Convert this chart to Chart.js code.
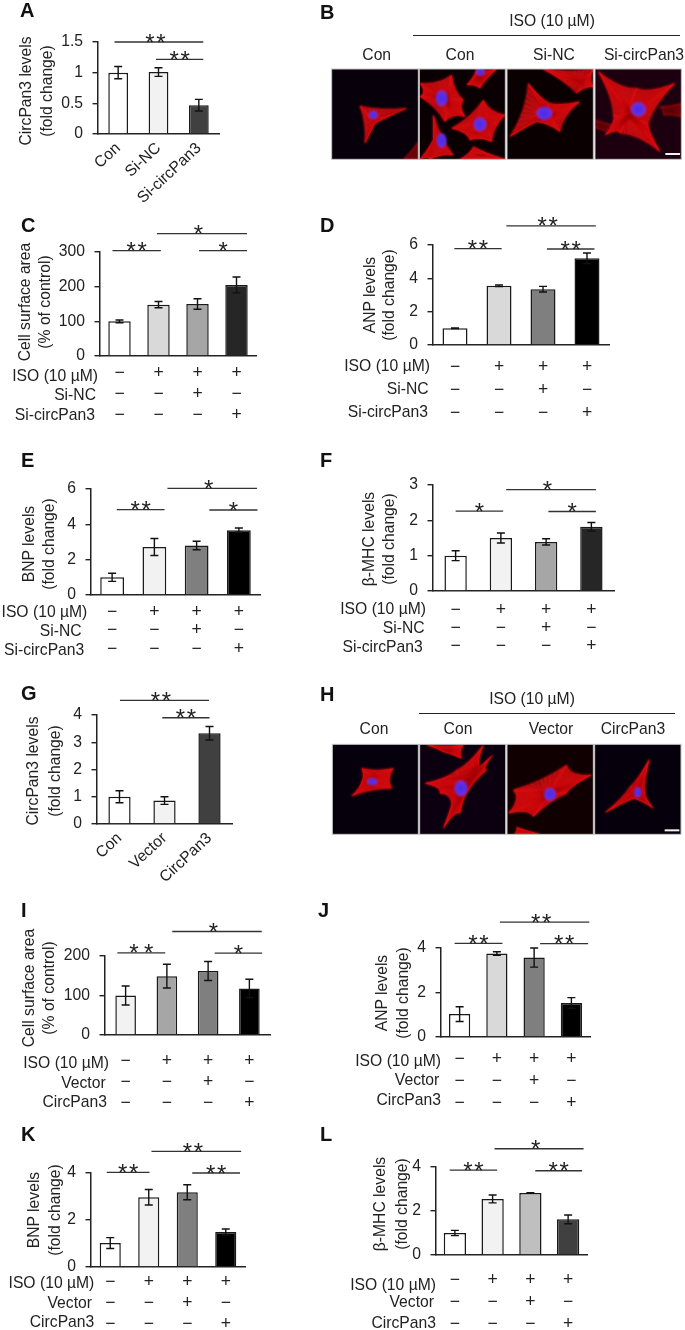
<!DOCTYPE html>
<html lang="en">
<head>
<meta charset="UTF-8" />
<title>CircPan3 panels</title>
<script src="https://cdn.jsdelivr.net/npm/chart.js"></script>
<style>
  html, body { margin: 0; background: #fff; }
  #page { position: relative; width: 685px; height: 1330px; overflow: hidden; font-family: "Liberation Sans", Arial, sans-serif; color: #222; }
  #page canvas { position: absolute; }
  .t { position: absolute; white-space: nowrap; font-size: 15.7px; line-height: 1; }
  .letter { font-weight: bold; font-size: 20px; color: #111; }
  .rule { position: absolute; height: 1.3px; background: #222; }
</style>
</head>
<body>
<div id="page"><canvas id="cells" width="685" height="1330" style="left:0;top:0"></canvas></div>
<script>
// categories
const aLabels = ['Con', 'Si-NC', 'Si-circPan3'];
const gLabels = ['Con', 'Vector', 'CircPan3'];
const isoSigns = ['−', '+', '+', '+'];
const middleSigns = ['−', '−', '+', '−'];
const lastSigns = ['−', '−', '−', '+'];

// values and errors
const aValues = [1, 1.01, 0.47],            aErrors = [0.1, 0.07, 0.095];
const cValues = [100, 148, 150, 205],       cErrors = [4, 9, 15, 23];
const dValues = [1, 3.55, 3.35, 5.2],       dErrors = [0.02, 0.05, 0.17, 0.32];
const eValues = [1, 2.72, 2.8, 3.67],       eErrors = [0.23, 0.48, 0.24, 0.12];
const fValues = [1, 1.5, 1.39, 1.82],       fErrors = [0.14, 0.14, 0.09, 0.12];
const gValues = [1, 0.86, 3.33],            gErrors = [0.22, 0.14, 0.25];
const iValues = [100, 149, 162, 118],       iErrors = [24, 30, 24, 23];
const jValues = [1.03, 3.75, 3.57, 1.53],   jErrors = [0.33, 0.08, 0.43, 0.24];
const kValues = [1.02, 2.97, 3.18, 1.49],   kErrors = [0.23, 0.33, 0.32, 0.13];
const lValues = [1, 2.55, 2.82, 1.62],      lErrors = [0.12, 0.18, 0.01, 0.2];

// y tick labels
const aTicks = [0, 0.5, 1, 1.5];
const cTicks = [0, 100, 200, 300];
const sixTicks = [0, 2, 4, 6];
const fTicks = [0, 1, 2, 3];
const gTicks = [0, 1, 2, 3, 4];
const iTicks = [0, 100, 200];
const fourTicks = [0, 2, 4];

// significance lines: from category, to category, y value, number of stars
const aSig = [[-0.09, 2.11, 1.5, 2], [0.94, 2.11, 1.216, 2]];
const cSig = [[-0.18, 1.06, 304, 2], [0.96, 3.27, 353, 1], [2.04, 3.27, 304, 1]];
const dSig = [[-0.015, 1.06, 5.78, 2], [1.167, 3.2, 7.15, 2], [2.09, 3.17, 5.76, 2]];
const eSig = [[0.11, 1.24, 4.83, 2], [1.31, 3.43, 6.04, 1], [2.3, 3.44, 4.81, 1]];
const fSig = [[0, 1.05, 2.26, 1], [1.116, 3.1, 2.87, 1], [2.05, 3.1, 2.25, 1]];
const gSig = [[0.01, 1.99, 4.54, 2], [0.95, 2, 3.9, 2]];
const iSig = [[-0.2, 0.96, 208, 2], [1.13, 3.3, 262, 1], [2.16, 3.31, 207.5, 1]];
const jSig = [[-0.135, 1.15, 4.21, 2], [1.08, 3.48, 5.16, 2], [2.16, 3.45, 4.2, 2]];
const kSig = [[-0.09, 1.02, 4.03, 2], [1.07, 3.4, 4.92, 2], [2.13, 3.37, 4, 2]];
const lSig = [[-0.137, 1.12, 3.86, 2], [1.05, 3.41, 4.83, 1], [2.13, 3.37, 3.83, 2]];

const page = document.getElementById('page');

function addText(txt, x, y, align, cls) {
  const el = document.createElement('div');
  el.className = 't' + (cls ? ' ' + cls : '');
  el.textContent = txt;
  el.style.left = x + 'px';
  el.style.top = y + 'px';
  const shift = align === 'right' ? '-100%' : align === 'left' ? '0' : '-50%';
  el.style.transform = `translate(${shift},-50%)`;
  page.appendChild(el);
}

function addYTitle(txt, x, y) {
  const el = document.createElement('div');
  el.className = 't';
  el.textContent = txt;
  el.style.left = x + 'px';
  el.style.top = y + 'px';
  el.style.transform = 'translate(-50%,-50%) rotate(-90deg)';
  page.appendChild(el);
}

function addRule(x0, x1, y) {
  const el = document.createElement('div');
  el.className = 'rule';
  el.style.left = x0 + 'px';
  el.style.width = (x1 - x0) + 'px';
  el.style.top = y + 'px';
  page.appendChild(el);
}

// error bars and significance lines
const extras = {
  id: 'extras',
  afterDatasetsDraw(chart) {
    const { ctx, scales: { x, y } } = chart;
    const ds = chart.data.datasets[0];
    const bars = chart.getDatasetMeta(0).data;
    ctx.save();
    ctx.strokeStyle = '#111';
    ctx.lineWidth = 1.4;
    ds.values.forEach((v, i) => {
      const px = bars[i].x;
      const hi = y.getPixelForValue(v + ds.errors[i]);
      const lo = y.getPixelForValue(v - ds.errors[i]);
      ctx.beginPath();
      ctx.moveTo(px, hi); ctx.lineTo(px, lo);
      ctx.moveTo(px - 4, hi); ctx.lineTo(px + 4, hi);
      ctx.moveTo(px - 4, lo); ctx.lineTo(px + 4, lo);
      ctx.stroke();
    });
    ctx.strokeStyle = '#333';
    ctx.lineWidth = 1.3;
    ctx.fillStyle = '#222';
    ctx.font = '24px "Liberation Sans"';
    ctx.textAlign = 'center';
    ctx.textBaseline = 'alphabetic';
    ds.sig.forEach(([from, to, val, stars]) => {
      const x0 = x.getPixelForValue(from), x1 = x.getPixelForValue(to), py = y.getPixelForValue(val);
      ctx.beginPath();
      ctx.moveTo(x0, py); ctx.lineTo(x1, py);
      ctx.stroke();
      // the stars over the long lines sit a little left of the middle
      const mid = (x0 + x1) / 2 - (to - from >= 1.9 ? 3.5 : 0);
      if (stars === 2) {
        ctx.fillText('*', mid - ds.starGap / 2, py + 8.5);
        ctx.fillText('*', mid + ds.starGap / 2, py + 8.5);
      } else {
        ctx.fillText('*', mid, py + 8.5);
      }
    });
    ctx.restore();
  }
};

const GUTTER = 45, HEAD = 45, SIDE = 25, SIGN_SIZE = 17.5;

function barPanel(p) {
  const foot = p.foot || 75;
  const cv = document.createElement('canvas');
  cv.width = GUTTER + (p.right - p.left) + SIDE;
  cv.height = HEAD + (p.bottom - p.top) + foot;
  cv.style.left = (p.left - GUTTER) + 'px';
  cv.style.top = (p.top - HEAD) + 'px';
  page.appendChild(cv);

  const rotated = p.rotate > 0;
  new Chart(cv, {
    type: 'bar',
    data: {
      labels: p.labels,
      datasets: [{
        data: p.values,
        values: p.values,
        errors: p.errors,
        sig: p.sig,
        starGap: p.starGap || 11,
        backgroundColor: p.colors,
        borderColor: '#1a1a1a',
        borderWidth: 1.5,
        barPercentage: p.barFrac,
        categoryPercentage: 1
      }]
    },
    options: {
      responsive: false,
      animation: false,
      events: [],
      layout: { autoPadding: false, padding: { top: HEAD, right: SIDE, left: 0, bottom: 0 } },
      plugins: { legend: { display: false }, tooltip: { enabled: false } },
      scales: {
        x: {
          afterFit: s => { s.height = foot; },
          grid: { display: false, drawTicks: false },
          border: { color: '#222', width: 1.5 },
          ticks: {
            autoSkip: false,
            minRotation: p.rotate || 0,
            maxRotation: p.rotate || 0,
            padding: rotated ? 5 : p.firstRow - p.bottom - p.rowGap / 2,
            color: '#222',
            font: { family: 'Liberation Sans', size: rotated ? 15.7 : SIGN_SIZE, lineHeight: rotated ? 1.2 : p.rowGap / SIGN_SIZE }
          }
        },
        y: {
          min: 0,
          max: p.ticks[p.ticks.length - 1],
          afterFit: s => { s.width = GUTTER; },
          afterBuildTicks: s => { s.ticks = p.ticks.map(v => ({ value: v })); },
          grid: { drawOnChartArea: false, drawTicks: true, tickLength: 5.5, color: '#222', lineWidth: 1.4 },
          border: { color: '#222', width: 1.5 },
          ticks: {
            padding: 9.5,
            color: '#222',
            font: { family: 'Liberation Sans', size: 15.7 },
            callback: v => String(v)
          }
        }
      }
    },
    plugins: [extras]
  });

  addYTitle(p.title[0], p.title[1], p.title[3]);
  addYTitle(p.title2, p.title[2], p.title[3]);
  if (p.rows) {
    p.rows.forEach(r => addText(r[0], r[1], r[2], 'right'));
  }
}

function signLabels() {
  return isoSigns.map((s, i) => [s, middleSigns[i], lastSigns[i]]);
}

const FOLD = '(fold change)';

barPanel({ left: 98, right: 219, top: 42, bottom: 134, labels: aLabels, values: aValues, errors: aErrors, sig: aSig, ticks: aTicks,
  colors: ['#fff', '#f2f2f2', '#404040'], barFrac: 0.49, rotate: 43, foot: 90,
  title: ['CircPan3 levels', 26, 47.3, 91.3], title2: FOLD });

barPanel({ left: 100, right: 256, top: 252, bottom: 356, labels: signLabels(), values: cValues, errors: cErrors, sig: cSig, ticks: cTicks,
  colors: ['#fff', '#d9d9d9', '#a6a6a6', '#262626'], barFrac: 0.575, firstRow: 373.5, rowGap: 20.8,
  title: ['Cell surface area', 25, 45, 301.7], title2: '(% of control)',
  rows: [['ISO (10 µM)', 98, 375.7], ['Si-NC', 96, 395], ['Si-circPan3', 95, 415]] });

barPanel({ left: 433, right: 609, top: 245, bottom: 345, labels: signLabels(), values: dValues, errors: dErrors, sig: dSig, ticks: sixTicks,
  colors: ['#fff', '#d9d9d9', '#7f7f7f', '#000'], barFrac: 0.568, firstRow: 366.7, rowGap: 23.3,
  title: ['ANP levels', 370, 389.3, 295.3], title2: FOLD,
  rows: [['ISO (10 µM)', 430, 366], ['Si-NC', 428.7, 388.7], ['Si-circPan3', 428, 412]] });

barPanel({ left: 91, right: 260, top: 489, bottom: 595, labels: signLabels(), values: eValues, errors: eErrors, sig: eSig, ticks: sixTicks,
  colors: ['#fff', '#f2f2f2', '#7f7f7f', '#000'], barFrac: 0.563, firstRow: 612, rowGap: 18.5,
  title: ['BNP levels', 29.3, 49, 544.3], title2: FOLD,
  rows: [['ISO (10 µM)', 87.3, 612], ['Si-NC', 81.7, 631], ['Si-circPan3', 84.3, 649.7]] });

barPanel({ left: 433, right: 614, top: 485, bottom: 591, labels: signLabels(), values: fValues, errors: fErrors, sig: fSig, ticks: fTicks,
  colors: ['#fff', '#f2f2f2', '#a6a6a6', '#262626'], barFrac: 0.494, firstRow: 610, rowGap: 18.3,
  title: ['β-MHC levels', 369.3, 389.3, 538.8], title2: FOLD,
  rows: [['ISO (10 µM)', 426, 609.3], ['Si-NC', 424.7, 628.3], ['Si-circPan3', 422.7, 646.7]] });

barPanel({ left: 97, right: 232, top: 715, bottom: 824, labels: gLabels, values: gValues, errors: gErrors, sig: gSig, ticks: gTicks,
  colors: ['#fff', '#f2f2f2', '#404040'], barFrac: 0.494, rotate: 43, foot: 90,
  title: ['CircPan3 levels', 33.3, 55, 770.8], title2: FOLD });

barPanel({ left: 105, right: 270, top: 956, bottom: 1035, labels: signLabels(), values: iValues, errors: iErrors, sig: iSig, ticks: iTicks,
  colors: ['#f2f2f2', '#a6a6a6', '#7f7f7f', '#000'], barFrac: 0.5, firstRow: 1061, rowGap: 21.2, starGap: 14.7,
  title: ['Cell surface area', 29.3, 49.3, 988.3], title2: '(% of control)',
  rows: [['ISO (10 µM)', 109, 1063.3], ['Vector', 105.7, 1082.7], ['CircPan3', 107, 1102]] });

barPanel({ left: 441, right: 590, top: 948, bottom: 1037, labels: signLabels(), values: jValues, errors: jErrors, sig: jSig, ticks: fourTicks,
  colors: ['#fff', '#d9d9d9', '#7f7f7f', '#000'], barFrac: 0.57, firstRow: 1059.5, rowGap: 22,
  title: ['ANP levels', 381.7, 402.7, 993.3], title2: FOLD,
  rows: [['ISO (10 µM)', 441, 1061], ['Vector', 439.3, 1080.3], ['CircPan3', 441, 1100]] });

barPanel({ left: 91, right: 245, top: 1173, bottom: 1267, labels: signLabels(), values: kValues, errors: kErrors, sig: kSig, ticks: fourTicks,
  colors: ['#fff', '#f2f2f2', '#7f7f7f', '#000'], barFrac: 0.548, firstRow: 1281.7, rowGap: 21.2,
  title: ['BNP levels', 34.3, 55, 1210], title2: FOLD,
  rows: [['ISO (10 µM)', 94.3, 1283.3], ['Vector', 92, 1303.3], ['CircPan3', 94.3, 1321.7]] });

barPanel({ left: 436, right: 587, top: 1167, bottom: 1255, labels: signLabels(), values: lValues, errors: lErrors, sig: lSig, ticks: fourTicks,
  colors: ['#fff', '#f2f2f2', '#bfbfbf', '#404040'], barFrac: 0.59, firstRow: 1280, rowGap: 22,
  title: ['β-MHC levels', 380, 401.7, 1204], title2: FOLD,
  rows: [['ISO (10 µM)', 436, 1285], ['Vector', 434, 1302], ['CircPan3', 436, 1322.7]] });

// panel letters
[['A', 20, 10], ['B', 320, 12], ['C', 21, 225], ['D', 320, 225], ['E', 21, 460], ['F', 320, 460],
 ['G', 21, 693], ['H', 320, 694], ['I', 21, 910], ['J', 318, 910], ['K', 21, 1134], ['L', 320, 1134]]
  .forEach(l => addText(l[0], l[1], l[2], 'left', 'letter'));

// captions over the micrographs
addText('ISO (10 µM)', 552, 21);
addRule(413, 680, 34.5);
[['Con', 376.7], ['Con', 460], ['Si-NC', 554], ['Si-circPan3', 644]].forEach(c => addText(c[0], c[1], 55));
addText('ISO (10 µM)', 532, 699);
addRule(419, 675, 713);
[['Con', 374], ['Con', 458], ['Vector', 551], ['CircPan3', 633]].forEach(c => addText(c[0], c[1], 729));

// rough sketch of the micrographs, coordinates in 3x crop pixels
const cx = document.getElementById('cells').getContext('2d');

function cellPath(pts, cenX, cenY) {
  const n = pts.length;
  cx.beginPath();
  cx.moveTo(pts[0][0], pts[0][1]);
  pts.forEach((p, i) => {
    const q = pts[(i + 1) % n];
    const mx = (p[0] + q[0]) / 2, my = (p[1] + q[1]) / 2;
    cx.quadraticCurveTo(mx + (cenX - mx) * 0.3, my + (cenY - my) * 0.3, q[0], q[1]);
  });
  cx.closePath();
}

function sketchCell(pts, dim) {
  const n = pts.length;
  const cenX = pts.reduce((s, p) => s + p[0], 0) / n, cenY = pts.reduce((s, p) => s + p[1], 0) / n;
  cx.save();
  cellPath(pts, cenX, cenY);
  cx.fillStyle = dim ? '#6a0810' : '#8f0a10';
  cx.fill();
  cx.clip();
  const k = Math.floor(n / 2);
  const fibres = (colour, width, step, phase) => {
    cx.strokeStyle = colour;
    cx.lineWidth = width;
    for (let i = 0; i < n; i++) {
      const a = pts[i], b = pts[(i + 1) % n], c = pts[(i + k) % n], d = pts[(i + k + 1) % n];
      for (let t = phase; t <= 1; t += step) {
        cx.beginPath();
        cx.moveTo(a[0] + (b[0] - a[0]) * t, a[1] + (b[1] - a[1]) * t);
        cx.lineTo(c[0] + (d[0] - c[0]) * t, c[1] + (d[1] - c[1]) * t);
        cx.stroke();
      }
    }
  };
  fibres(dim ? '#8a0c12' : '#ff1515', 2.6, 0.1, 0);
  fibres(dim ? '#5a060c' : '#a00a10', 1.6, 0.2, 0.05);
  cx.restore();
  // bright rim along the cell edge
  cellPath(pts, cenX, cenY);
  cx.strokeStyle = dim ? '#8a0c12' : '#f01015';
  cx.lineWidth = 2.5;
  cx.stroke();
}

function nucleus(x, y, rx, ry) {
  const g = cx.createRadialGradient(x, y, 0, x, y, Math.max(rx, ry));
  g.addColorStop(0, '#4a2be8');
  g.addColorStop(0.75, '#5f30e4');
  g.addColorStop(1, '#a030c8');
  cx.beginPath();
  cx.ellipse(x, y, rx, ry, 0, 0, Math.PI * 2);
  cx.fillStyle = g;
  cx.fill();
}

function micrograph(ox, oy, box, bg, bits) {
  cx.save();
  cx.setTransform(1 / 3, 0, 0, 1 / 3, ox, oy);
  cx.beginPath();
  cx.rect(box[0], box[1], box[2] - box[0], box[3] - box[1]);
  cx.fillStyle = bg;
  cx.fill();
  cx.clip();
  cx.filter = 'blur(1px)';
  bits();
  cx.filter = 'none';
  cx.restore();
  cx.save();
  cx.setTransform(1 / 3, 0, 0, 1 / 3, ox, oy);
  cx.strokeStyle = '#c4c4c4';
  cx.lineWidth = 3;
  cx.strokeRect(box[0], box[1], box[2] - box[0], box[3] - box[1]);
  cx.restore();
}

function scaleBar(x, y) {
  cx.filter = 'none';
  cx.fillStyle = '#f2f2f2';
  cx.fillRect(x, y, 44, 6);
}

micrograph(320, 0, [35, 207, 295, 478], '#08000a', () => {
  sketchCell([[120, 318], [260, 325], [165, 370], [135, 430]]);
  nucleus(160, 345, 14, 13);
  sketchCell([[250, 478], [295, 425], [295, 478]], true);
});
micrograph(320, 0, [298, 207, 556, 478], '#0a0004', () => {
  sketchCell([[300, 250], [395, 225], [430, 300], [435, 350], [375, 365], [300, 290]]);
  sketchCell([[440, 255], [470, 208], [530, 208], [480, 265]]);
  sketchCell([[395, 385], [490, 300], [555, 345], [515, 425], [450, 420]]);
  sketchCell([[340, 345], [400, 465], [330, 478], [300, 478], [340, 420]]);
  sketchCell([[420, 478], [460, 440], [555, 478]]);
  nucleus(365, 295, 18, 24); nucleus(481, 216, 14, 11); nucleus(480, 373, 20, 21); nucleus(365, 422, 15, 22);
});
micrograph(320, 0, [561, 207, 820, 478], '#0a0002', () => {
  sketchCell([[570, 410], [625, 250], [690, 310], [780, 305], [720, 395], [650, 365]]);
  sketchCell([[670, 208], [820, 208], [820, 260], [770, 280]]);
  nucleus(673, 340, 24, 20);
});
micrograph(320, 0, [825, 207, 1084, 478], '#1c000f', () => {
  sketchCell([[1020, 320], [1084, 310], [1084, 350], [1030, 345]], true);
  sketchCell([[828, 360], [880, 375], [860, 395], [828, 385]], true);
  sketchCell([[835, 215], [950, 265], [1065, 250], [985, 370], [1020, 455], [900, 400], [855, 405], [880, 345]]);
  nucleus(955, 328, 23, 22);
  scaleBar(1036, 459);
});

micrograph(320, 670, [37, 223, 295, 493], '#06000c', () => {
  sketchCell([[125, 295], [220, 295], [215, 355], [95, 378], [125, 335]]);
  nucleus(157, 335, 16, 11);
});
micrograph(320, 670, [299, 223, 557, 493], '#0c0010', () => {
  sketchCell([[320, 225], [430, 225], [425, 265], [370, 245]]);
  sketchCell([[315, 340], [410, 300], [490, 225], [480, 290], [518, 255], [500, 300], [440, 370], [420, 430], [370, 475], [395, 400], [360, 370]]);
  nucleus(423, 355, 20, 24);
});
micrograph(320, 670, [561, 223, 820, 493], '#100002', () => {
  sketchCell([[565, 430], [580, 360], [740, 285], [815, 315], [740, 370], [640, 440]]);
  sketchCell([[583, 493], [590, 472], [660, 493]]);
  nucleus(690, 373, 18, 20);
});
micrograph(320, 670, [824, 223, 1083, 493], '#06000c', () => {
  sketchCell([[855, 428], [930, 350], [988, 268], [975, 370], [1000, 415], [940, 385]]);
  nucleus(953, 367, 11, 16);
  scaleBar(1034, 478);
});
</script>
</body>
</html>
